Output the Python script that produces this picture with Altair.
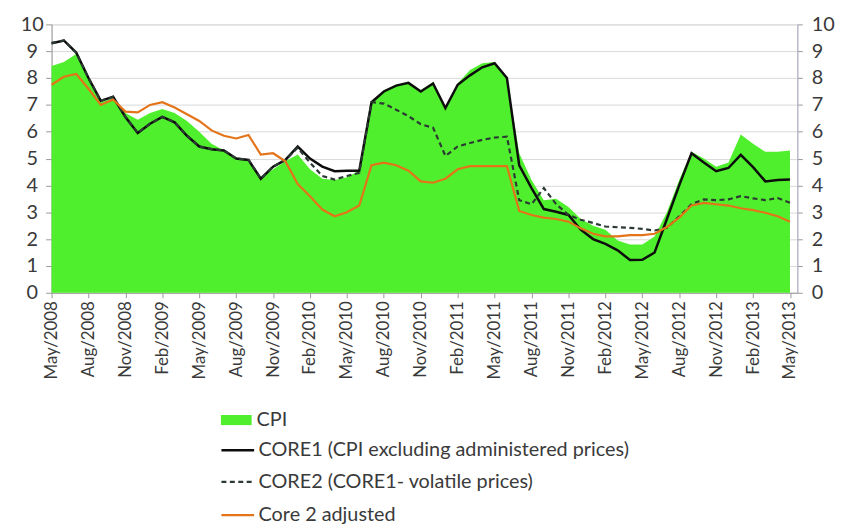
import altair as alt
import pandas as pd

tick_labels = ["May/2008", "Aug/2008", "Nov/2008", "Feb/2009", "May/2009", "Aug/2009",
               "Nov/2009", "Feb/2010", "May/2010", "Aug/2010", "Nov/2010", "Feb/2011",
               "May/2011", "Aug/2011", "Nov/2011", "Feb/2012", "May/2012", "Aug/2012",
               "Nov/2012", "Feb/2013", "May/2013"]

cpi = [8.45, 8.6, 8.9, 8.0, 7.1, 7.25, 6.7, 6.45, 6.7, 6.85,
       6.7, 6.4, 6.0, 5.55, 5.3, 5.05, 4.9, 4.3, 4.6, 4.9,
       5.15, 4.6, 4.25, 4.2, 4.3, 4.55, 7.05, 7.55, 7.75, 7.85,
       7.55, 7.85, 6.9, 7.8, 8.3, 8.55, 8.6, 8.0, 5.2, 4.2,
       3.45, 3.5, 3.2, 2.75, 2.5, 2.35, 1.95, 1.8, 1.8, 2.1,
       3.0, 4.2, 5.25, 5.0, 4.7, 4.85, 5.9, 5.55, 5.25, 5.25,
       5.3]

core1 = [9.3, 9.4, 8.95, 8.0, 7.15, 7.3, 6.55, 5.95, 6.3, 6.55,
         6.35, 5.85, 5.45, 5.35, 5.3, 5.0, 4.95, 4.25, 4.7, 4.95,
         5.45, 5.0, 4.7, 4.53, 4.55, 4.55, 7.1, 7.5, 7.72, 7.82,
         7.5, 7.8, 6.88, 7.75, 8.1, 8.4, 8.55, 8.0, 4.75, 3.9,
         3.12, 3.02, 2.9, 2.35, 2.0, 1.82, 1.58, 1.22, 1.23, 1.5,
         2.75, 4.0, 5.2, 4.85, 4.53, 4.65, 5.14, 4.68, 4.15, 4.2,
         4.22]

core2 = [9.3, 9.4, 8.95, 8.0, 7.15, 7.3, 6.55, 5.95, 6.3, 6.55,
         6.35, 5.85, 5.45, 5.35, 5.3, 5.0, 4.95, 4.25, 4.7, 4.95,
         5.4, 4.85, 4.35, 4.22, 4.35, 4.47, 7.1, 7.05, 6.82, 6.58,
         6.28, 6.15, 5.1, 5.45, 5.58, 5.7, 5.78, 5.82, 3.45, 3.3,
         3.9, 3.3, 2.9, 2.72, 2.6, 2.47, 2.44, 2.42, 2.38, 2.32,
         2.42, 2.85, 3.3, 3.48, 3.45, 3.48, 3.6, 3.52, 3.45, 3.53,
         3.35]

core2_adj = [7.75, 8.05, 8.15, 7.6, 7.0, 7.2, 6.75, 6.72, 7.0, 7.1,
             6.9, 6.65, 6.4, 6.05, 5.85, 5.75, 5.88, 5.15, 5.2, 4.9,
             4.05, 3.6, 3.1, 2.85, 3.0, 3.25, 4.75, 4.85, 4.75, 4.55,
             4.15, 4.1, 4.25, 4.6, 4.72, 4.72, 4.72, 4.72, 3.05, 2.9,
             2.8, 2.75, 2.65, 2.4, 2.2, 2.1, 2.1, 2.15, 2.15, 2.2,
             2.45, 2.8, 3.25, 3.35, 3.3, 3.25, 3.15, 3.08, 2.98, 2.85,
             2.65]

names = ["CPI", "CORE1 (CPI excluding administered prices)",
         "CORE2 (CORE1- volatile prices)", "Core 2 adjusted"]

df = pd.DataFrame({"m": list(range(len(cpi))), "cpi": cpi, "core1": core1,
                   "core2": core2, "adj": core2_adj})

FONT = "Lato"
GREEN = "#50EF2D"
BLACK = "#0d0d0d"
DASH = "#2c3a34"
ORANGE = "#E4741A"
TXT = "#3a3a3a"

lab_expr = "[" + ",".join("'%s'" % t for t in tick_labels) + "][round(datum.value/3)]"

x_enc = alt.X("m:Q", scale=alt.Scale(domain=[0, 60.6], nice=False, zero=False),
              axis=alt.Axis(values=list(range(0, 61, 3)), labelExpr=lab_expr, labelAngle=-90,
                            labelFontSize=17, labelFont=FONT, labelColor=TXT, tickSize=5,
                            tickColor="#999999", domainColor="#999999", grid=False,
                            labelPadding=3, title=None))

ysc = alt.Scale(domain=[0, 10], nice=False, zero=True)


def leg(lx, ly, **kw):
    base = dict(orient="none", legendX=lx, legendY=ly, title=None, labelFont=FONT,
                labelFontSize=20, labelColor=TXT, labelLimit=0, labelOffset=3)
    base.update(kw)
    return alt.Legend(**base)


area = alt.Chart(df).mark_area(opacity=1, interpolate="linear").transform_calculate(
    s="'%s'" % names[0]
).encode(
    x=x_enc,
    y=alt.Y("cpi:Q", scale=ysc,
            axis=alt.Axis(values=list(range(11)), labelFontSize=20, labelFont=FONT,
                          labelColor=TXT, grid=True, gridColor="#d9d9d9", tickSize=6,
                          tickColor="#999999", domainColor="#999999", labelAlign="center",
                          labelPadding=14, title=None)),
    fill=alt.Fill("s:N", scale=alt.Scale(domain=[names[0]], range=[GREEN]),
                  legend=leg(171, 384, symbolType="M-1,-0.33H1V0.33H-1Z", symbolSize=961,
                             symbolStrokeWidth=0, symbolOpacity=1, labelOffset=5)),
)


def line_layer(col, name, color, lx, ly, dash=None, width=2.5):
    mk = dict(strokeWidth=width, interpolate="linear")
    lk = dict(symbolType="stroke", symbolSize=1089, symbolStrokeWidth=width)
    if dash:
        mk["strokeDash"] = dash
        lk["symbolDash"] = dash
    return alt.Chart(df).mark_line(**mk).transform_calculate(
        s="'%s'" % name
    ).encode(
        x=x_enc,
        y=alt.Y(col + ":Q", scale=ysc, axis=None),
        stroke=alt.Stroke("s:N", scale=alt.Scale(domain=[name], range=[color]),
                          legend=leg(lx, ly, **lk)),
    )


l1 = line_layer("core1", names[1], BLACK, 170, 412)
l2 = line_layer("core2", names[2], DASH, 170, 444, dash=[5, 3.5], width=2.2)
l3 = line_layer("adj", names[3], ORANGE, 170, 477.5, width=2.2)

right = alt.Chart(df).mark_line(opacity=0).encode(
    x=x_enc,
    y=alt.Y("core1:Q", scale=ysc,
            axis=alt.Axis(orient="right", values=list(range(11)), labelFontSize=20,
                          labelFont=FONT, labelColor=TXT, grid=False, tickSize=5,
                          tickColor="#999999", domainColor="#a9a3c4", labelPadding=9,
                          title=None)),
)

chart = alt.layer(area, l1, l2, l3, right).resolve_scale(
    y="independent", stroke="independent"
).properties(
    width=753, height=271,
    padding={"left": 44, "top": 14, "right": 38, "bottom": 240},
    autosize=alt.AutoSizeParams(type="none"),
).configure_view(stroke=None).configure(background="white")

chart.save("out.html", embed_options={"renderer": "svg", "actions": False})
